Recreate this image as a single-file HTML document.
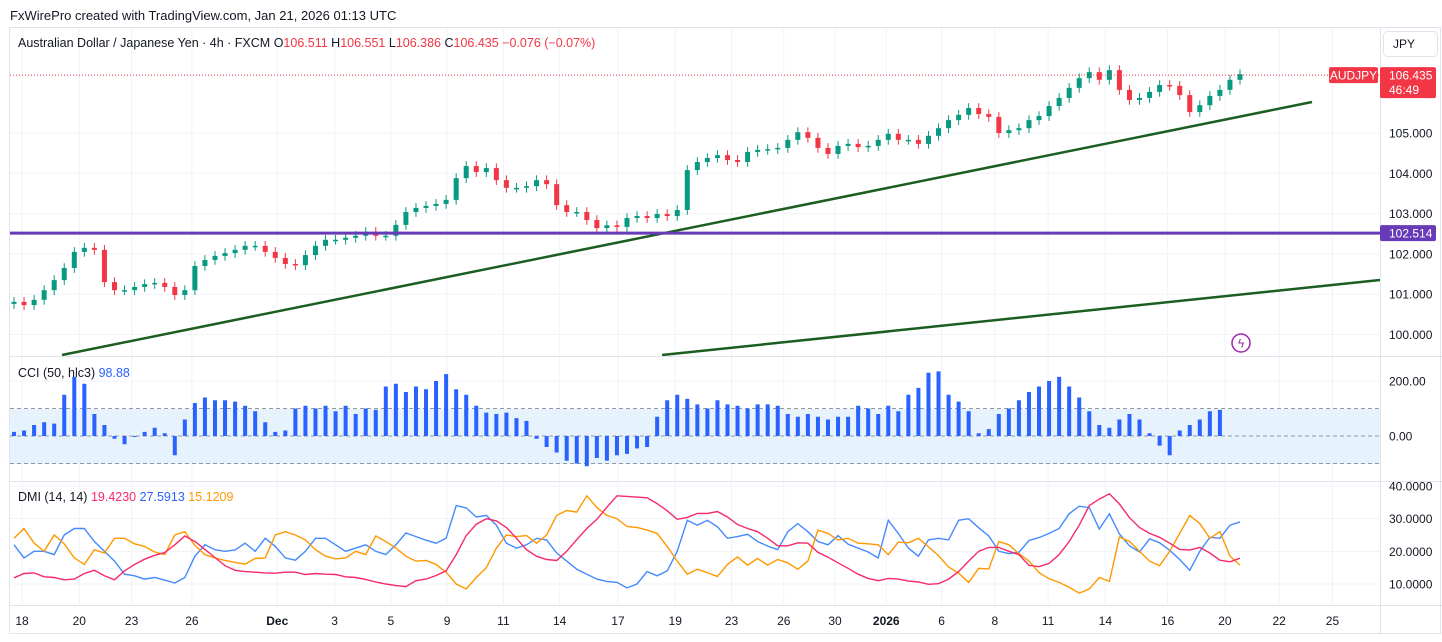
<!DOCTYPE html>
<html><head><meta charset="utf-8"><style>
body{margin:0;background:#fff;width:1442px;height:637px;overflow:hidden;font-family:"Liberation Sans",sans-serif}
svg text{font-family:"Liberation Sans",sans-serif}
</style></head><body>
<svg id="chart" width="1442" height="637" xmlns="http://www.w3.org/2000/svg">
<text x="10" y="20" font-size="13" fill="#131722">FxWirePro created with TradingView.com, Jan 21, 2026 01:13 UTC</text>
<rect x="9.5" y="27.5" width="1431" height="606" fill="none" stroke="#e0e3eb"/>
<g id="grid"></g>
<rect x="10" y="409" width="1370" height="55" fill="#e3f2fd" opacity="0.9"/>
<g id="marks"></g>
<line x1="10" y1="356.5" x2="1442" y2="356.5" stroke="#e0e3eb"/>
<line x1="10" y1="481.5" x2="1442" y2="481.5" stroke="#e0e3eb"/>
<line x1="10" y1="605.5" x2="1442" y2="605.5" stroke="#e0e3eb"/>
<line x1="1380.5" y1="27" x2="1380.5" y2="634" stroke="#e0e3eb"/>
<g font-size="12.5">
<text x="18" y="47" fill="#131722">Australian Dollar / Japanese Yen · 4h · FXCM <tspan fill="#131722">O</tspan><tspan fill="#f23645">106.511</tspan> <tspan fill="#131722"> H</tspan><tspan fill="#f23645">106.551</tspan> <tspan fill="#131722"> L</tspan><tspan fill="#f23645">106.386</tspan> <tspan fill="#131722"> C</tspan><tspan fill="#f23645">106.435 −0.076 (−0.07%)</tspan></text>
</g>
<text x="18" y="377" font-size="12.5" fill="#131722">CCI (50, hlc3) <tspan fill="#2962ff"> 98.88</tspan></text>
<text x="18" y="501" font-size="12.5" fill="#131722">DMI (14, 14) <tspan fill="#f7296b"> 19.4230</tspan><tspan fill="#2962ff"> 27.5913</tspan><tspan fill="#ff9800"> 15.1209</tspan></text>
<g><rect x="1383.5" y="31.5" width="54" height="25" rx="4" fill="#fff" stroke="#e0e3eb"/><text x="1393" y="48" font-size="12" fill="#131722">JPY</text></g>
<g><circle cx="1241" cy="343" r="9" fill="#fff" stroke="#9c27b0" stroke-width="1.5"/><text x="1241" y="347.5" font-size="12" text-anchor="middle" fill="#9c27b0">ϟ</text></g>
</svg>
<script>
const closes=[100.81,100.73,100.86,101.10,101.35,101.65,102.05,102.15,102.10,101.30,101.10,101.10,101.18,101.25,101.28,101.18,100.98,101.10,101.70,101.85,101.95,102.02,102.10,102.20,102.20,102.05,101.90,101.75,101.72,101.97,102.20,102.35,102.35,102.40,102.45,102.55,102.45,102.45,102.72,103.04,103.14,103.19,103.24,103.34,103.88,104.18,104.03,104.13,103.83,103.64,103.64,103.68,103.83,103.73,103.21,103.04,103.04,102.84,102.64,102.71,102.67,102.89,102.94,102.89,102.99,102.94,103.09,104.08,104.28,104.38,104.45,104.33,104.28,104.53,104.58,104.60,104.63,104.83,105.02,104.88,104.63,104.48,104.68,104.73,104.65,104.68,104.83,104.98,104.83,104.83,104.73,104.93,105.12,105.32,105.45,105.62,105.47,105.40,105.00,105.07,105.12,105.32,105.42,105.67,105.87,106.12,106.36,106.51,106.32,106.56,106.07,105.82,105.87,106.02,106.19,106.17,105.94,105.52,105.69,105.92,106.07,106.32,106.46];
const cci=[15,20,40,50,45,150,215,190,80,40,-10,-30,0,15,30,10,-70,60,120,140,130,130,125,110,90,50,15,20,100,110,100,110,90,110,80,100,95,180,190,160,180,170,200,225,170,150,110,85,80,85,65,55,-10,-40,-60,-90,-100,-110,-80,-90,-70,-65,-45,-40,70,130,150,135,115,100,130,115,110,100,115,115,110,80,70,80,70,60,70,70,110,100,80,110,90,150,175,230,235,150,125,90,10,25,80,100,130,160,180,200,215,180,140,90,40,30,60,80,60,10,-35,-70,20,40,60,90,95];
const plusDI=[22,18,20,20,19,25,27,27,23,20,17,13,12.5,11.5,12,11.2,10.3,12,18.5,22,20.5,20,20.4,22.5,20,24,21.5,18,17.3,20,24,24,22,20,21,22,20,19,22,25.6,24.5,23.4,22.5,24,34,33.3,30.5,31,28,22.5,21,22,24,23.5,19.5,17,14.5,13,11.5,10.8,10.5,8.8,10,13.8,12.5,14,20,29.5,28,29.5,27.5,24,24.5,25.2,23,21.6,20.5,26,28.5,26,23,22,24.8,22.2,21,19.8,18,29.5,25.5,21,18.5,23.5,24,23.5,29.5,30,27.2,24.7,20,19.3,19.7,23.3,24.2,25.5,27,31.5,33.8,33.4,26.8,31.5,25.3,21.7,19.8,23.8,22.6,20.3,17.5,14.2,20,24.3,24,28,29];
const minusDI=[24,27,22.5,20,25,22.3,18,16,20.5,19.5,24,24,22.3,21.5,19.8,19,25,26,21.8,19,18,17.2,16.6,16.1,17.8,18,25,26,25,23.5,20.5,18.5,17.7,18,20,19,24.7,23,21,18.5,17,17.2,16,13.6,10,8.5,12,15,21,25,24.5,24.8,22.5,25,31,32.5,32,37,33.4,31,30,27.6,27.3,26.5,25.5,21.5,17,13,14.5,13.5,12.3,16,18.3,15.8,17.8,15.8,17.5,16.5,14.5,17,26.5,25.5,23.5,24,22.5,22.3,22,19,22.8,22.6,24,21.4,18.7,15.2,13.3,10.5,14.8,14.6,23,22,19.3,17,13.5,11.6,10.5,9,7.2,8.5,12,10.8,24.4,23,20,17,15.6,20,25.5,31,28.5,24,26,18.5,15.8];
const adx=[11.9,13.2,13.4,12.2,12,11.3,11.5,13.2,14.2,12.5,11.3,14,16,17.6,18.8,19.6,22,24.7,23,20.6,18.1,15.6,14.2,13.8,13.6,13.4,13.3,13.6,13.6,12.9,13.2,13,12.9,12.2,12,11.4,10.6,10,9.5,9.2,11,11.5,12.6,14,19,24.8,28.3,30,29.3,27.3,24,20.5,18.5,17.5,17.2,20,23.6,27,29.8,33.5,37,36.8,36.6,36.4,34.6,32.4,29.8,30.4,31.6,31.6,32.2,30.5,28.2,27,26,24,21.7,21.7,22.6,22.5,19.7,18.2,16.5,14.8,13,11.7,11,11.7,11.5,10.9,10.6,9.9,10.1,11.5,13.8,17,20,21.2,21.2,20,19,15.7,15.3,16.3,19,23,28,34,36,37.6,34.5,30.3,27.3,25.5,24.3,22.5,20.6,20.4,21.2,19.5,17.3,16.8,17.9];
const priceTicks=[100,101,102,103,104,105];
const cciTicks=[200,0];
const dmiTicks=[40,30,20,10];
const dateLabels=["18","20","23","26","Dec","3","5","9","11","14","17","19","23","26","30","2026","6","8","11","14","16","20","22","25"];
const dateBars=[0.8,6.5,11.7,17.7,26.2,31.9,37.5,43.1,48.7,54.3,60.1,65.8,71.4,76.6,81.7,86.8,92.3,97.6,102.9,108.6,114.8,120.5,125.9,131.2];
const lastPrice=106.435, hLevel=102.514;
const NS="http://www.w3.org/2000/svg";
const X0=14, STEP=(1240-14)/122;
const bx=i=>X0+i*STEP;
const py=p=>133+(105-p)*40.3;
const cy=v=>436-v*0.275;
const dy=v=>584-(v-10)*3.267;
const grid=document.getElementById('grid'), marks=document.getElementById('marks'), svg=document.getElementById('chart');
function mk(tag,attrs,parent){const e=document.createElementNS(NS,tag);for(const k in attrs)e.setAttribute(k,attrs[k]);parent.appendChild(e);return e;}
function txt(s,x,y,attrs,parent){const e=mk('text',Object.assign({x:x,y:y},attrs),parent);e.textContent=s;return e;}
priceTicks.forEach(p=>{
  const g=mk('line',{x1:10,x2:1380,y1:py(p),y2:py(p),stroke:'#f0f3fa'},grid);
  
  
  const t=txt(p.toFixed(3),1389,py(p)+4.5,{'font-size':12,fill:'#131722'},svg);
  
  
});
cciTicks.forEach(v=>{
  const t=txt(v.toFixed(2),1389,cy(v)+4.5,{'font-size':12,fill:'#131722'},svg);
  
  
  const g=mk('line',{x1:10,x2:1380,y1:cy(v),y2:cy(v),stroke:'#f0f3fa'},grid);
  
  
});
dmiTicks.forEach(v=>{
  const t=txt(v.toFixed(4),1389,dy(v)+4.5,{'font-size':12,fill:'#131722'},svg);
  
  
  const g=mk('line',{x1:10,x2:1380,y1:dy(v),y2:dy(v),stroke:'#f0f3fa'},grid);
  
  
});
dateLabels.forEach((s,i)=>{
  const x=bx(dateBars[i]);
  const g=mk('line',{x1:x,x2:x,y1:28,y2:605,stroke:'#f0f3fa'},grid);
  
  
  const t=txt(s,x,625,{'font-size':12,fill:'#131722','text-anchor':'middle','font-weight':s==='2026'||s==='Dec'?'bold':'normal'},svg);
  
  
});
[100,0,-100].forEach(v=>{
  const l=mk('line',{x1:10,x2:1380,y1:cy(v),y2:cy(v),stroke:'#9598a1','stroke-dasharray':'4,3'},marks);
  
  
});
closes.forEach((c,i)=>{
  const o=i>0?closes[i-1]:c-0.05;
  const up=c>=o, col=up?'#089981':'#f23645';
  const x=bx(i), hi=Math.max(o,c)+0.12, lo=Math.min(o,c)-0.12;
  const w=mk('line',{x1:x,x2:x,y1:py(hi),y2:py(lo),stroke:col,'stroke-width':1},marks);
  
  
  const top=py(Math.max(o,c)), h=Math.max(1.5,Math.abs(py(o)-py(c)));
  const b=mk('rect',{x:x-2.5,y:top,width:5,height:h,fill:col},marks);
  
  
});
cci.forEach((v,i)=>{
  const x=bx(i), y0=cy(0), y1=cy(v);
  const b=mk('rect',{x:x-2,y:Math.min(y0,y1),width:4,height:Math.max(1,Math.abs(y1-y0)),fill:'#2962ff'},marks);
  
  
});
[[plusDI,'#448aff','dmi-plus-di-line'],[minusDI,'#ff9800','dmi-minus-di-line'],[adx,'#f7296b','dmi-adx-line']].forEach(([arr,col,name])=>{
  const p=mk('polyline',{points:arr.map((v,i)=>bx(i).toFixed(1)+','+dy(v).toFixed(1)).join(' '),fill:'none',stroke:col,'stroke-width':1.4},marks);
  
  
});
const t1=mk('line',{x1:62,y1:355,x2:1312,y2:102,stroke:'#1b5e20','stroke-width':2.5},marks);


const t2=mk('line',{x1:662,y1:355,x2:1380,y2:280,stroke:'#1b5e20','stroke-width':2.5},marks);


const hl=mk('line',{x1:10,y1:py(hLevel),x2:1380,y2:py(hLevel),stroke:'#673ab7','stroke-width':3},marks);


const lp=mk('line',{x1:10,y1:py(lastPrice),x2:1380,y2:py(lastPrice),stroke:'#f23645','stroke-width':1,'stroke-dasharray':'1,2'},marks);


const hlb=mk('g',{},svg);


mk('rect',{x:1380,y:py(hLevel)-8,width:56,height:16,rx:2,fill:'#673ab7'},hlb);
txt(hLevel.toFixed(3),1389,py(hLevel)+4.5,{'font-size':12,fill:'#fff'},hlb);
const lpb=mk('g',{},svg);


mk('rect',{x:1380,y:py(lastPrice)-8,width:56,height:31,rx:2,fill:'#f23645'},lpb);
txt(lastPrice.toFixed(3),1389,py(lastPrice)+4.5,{'font-size':12,fill:'#fff'},lpb);
txt('46:49',1389,py(lastPrice)+19,{'font-size':12,fill:'#fff'},lpb);
const sym=mk('g',{},svg);


mk('rect',{x:1329,y:py(lastPrice)-8,width:49,height:16,rx:2,fill:'#f23645'},sym);
txt('AUDJPY',1353.5,py(lastPrice)+4.5,{'font-size':12,fill:'#fff','text-anchor':'middle'},sym);
</script>
</body></html>
